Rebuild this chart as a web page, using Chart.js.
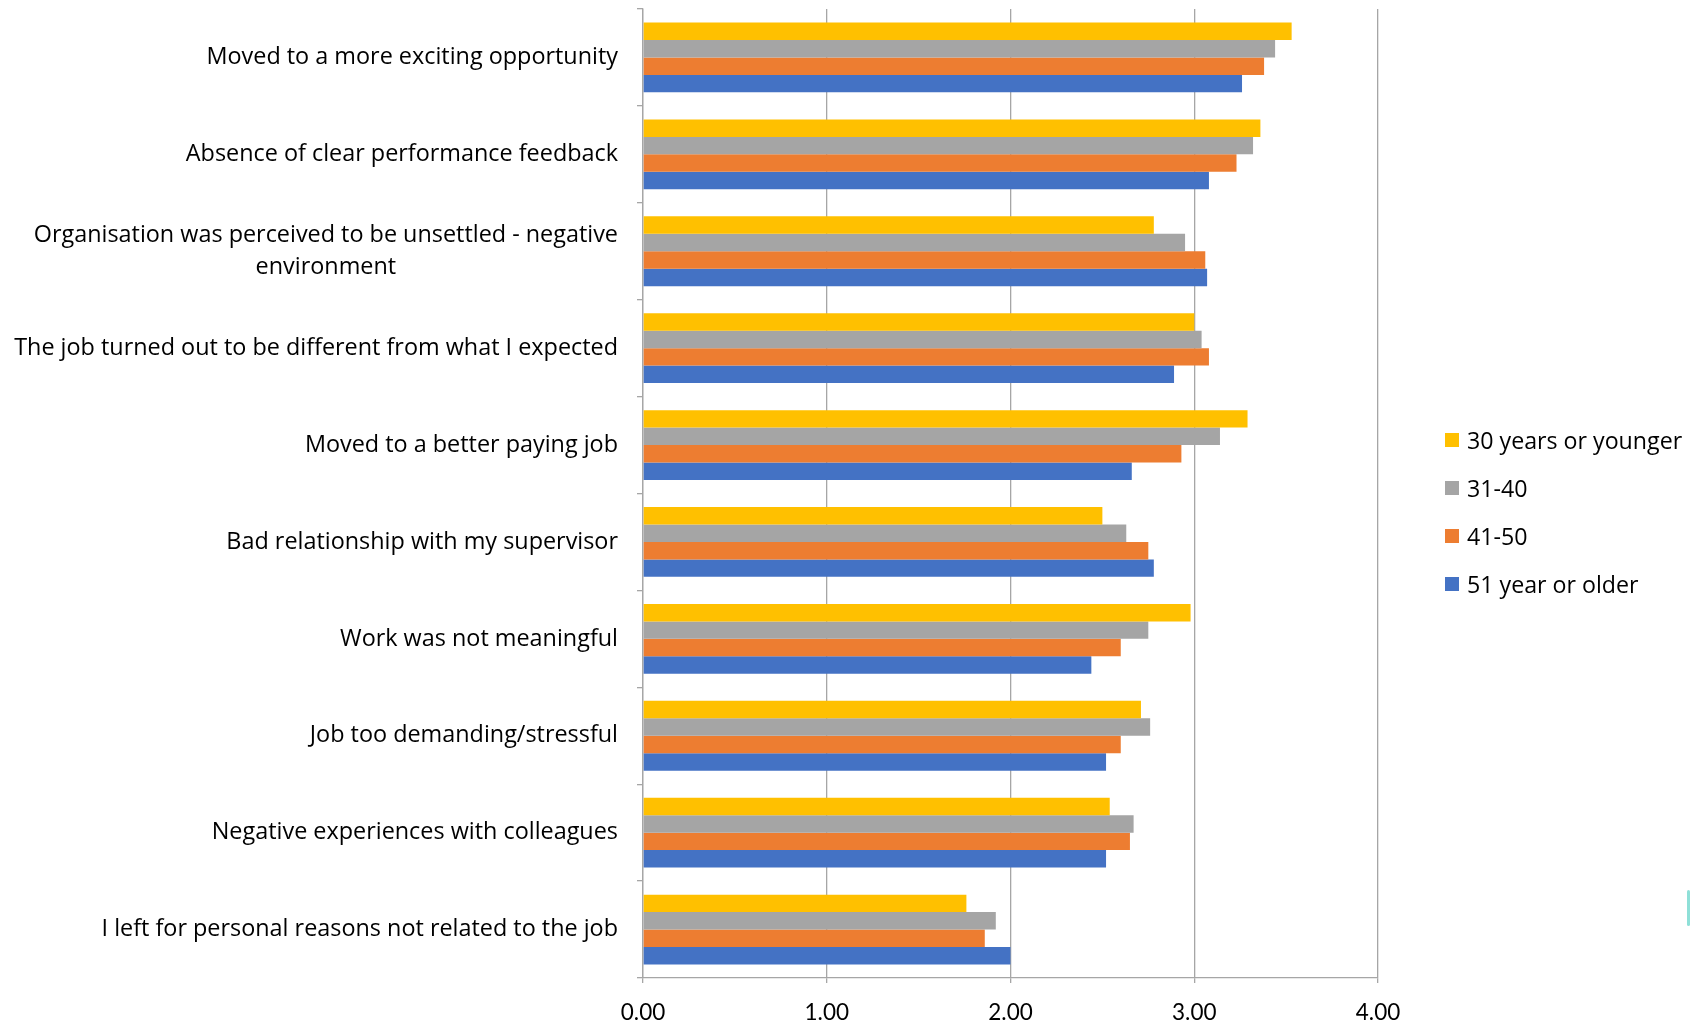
<!DOCTYPE html>
<html>
<head>
<meta charset="utf-8">
<title>Reasons for leaving by age group</title>
<script src="https://cdn.jsdelivr.net/npm/chart.js@4.4.0/dist/chart.umd.min.js"></script>
<style>
  html, body { margin: 0; padding: 0; background: #fff; }
  #wrap { position: relative; width: 1690px; height: 1024px; overflow: hidden; }
  #legend { position: absolute; left: 1445px; top: 427px; font-family: "Open Sans", Lato, sans-serif; font-size: 23.2px; color: #000; }
  #legend .item { display: flex; align-items: center; height: 26px; margin-bottom: 22px; white-space: nowrap; }
  #legend .box { width: 14px; height: 14px; margin-right: 8px; flex: none; }
  #edge { position: absolute; left: 1687px; top: 890px; width: 3px; height: 36px; background: #8fe0d8; border-radius: 2px; }
</style>
</head>
<body>
<div id="wrap">
  <canvas id="leaversChart" width="1690" height="1024"></canvas>
  <div id="legend"></div>
  <div id="edge"></div>
</div>
<script>
// reasons, top to bottom
const reasons = [
  "Moved to a more exciting opportunity",
  "Absence of clear performance feedback",
  ["Organisation was perceived to be unsettled - negative", "environment"],
  "The job turned out to be different from what I expected",
  "Moved to a better paying job",
  "Bad relationship with my supervisor",
  "Work was not meaningful",
  "Job too demanding/stressful",
  "Negative experiences with colleagues",
  "I left for personal reasons not related to the job"
];

// mean scores per age group
const age30OrYounger = [3.53, 3.36, 2.78, 3.00, 3.29, 2.50, 2.98, 2.71, 2.54, 1.76];
const age31to40 = [3.44, 3.32, 2.95, 3.04, 3.14, 2.63, 2.75, 2.76, 2.67, 1.92];
const age41to50 = [3.38, 3.23, 3.06, 3.08, 2.93, 2.75, 2.60, 2.60, 2.65, 1.86];
const age51OrOlder = [3.26, 3.08, 3.07, 2.89, 2.66, 2.78, 2.44, 2.52, 2.52, 2.00];

const groupNames = ["30 years or younger", "31-40", "41-50", "51 year or older"];
const groupColors = ["#FFC000", "#A5A5A5", "#ED7D31", "#4472C4"];
const xTicks = [0, 1, 2, 3, 4];

const labelFont = '23.4px "Open Sans", Lato, sans-serif';
const gridColor = "#A6A6A6";

// category labels: block right aligned next to the axis, lines centred within the block
const categoryLabels = {
  id: "categoryLabels",
  afterDraw(chart) {
    const ctx = chart.ctx;
    const yScale = chart.scales.y;
    const right = chart.chartArea.left - 25;
    const lineHeight = 32;
    ctx.save();
    ctx.font = labelFont;
    ctx.fillStyle = "#000";
    ctx.textAlign = "center";
    ctx.textBaseline = "middle";
    reasons.forEach((label, i) => {
      const lines = Array.isArray(label) ? label : [label];
      const w = Math.max(...lines.map((l) => ctx.measureText(l).width));
      const cx = right - w / 2;
      const cy = yScale.getPixelForValue(i);
      lines.forEach((l, j) => {
        ctx.fillText(l, cx, cy + (j - (lines.length - 1) / 2) * lineHeight);
      });
    });
    ctx.restore();
  }
};

const series = [age30OrYounger, age31to40, age41to50, age51OrOlder];

const ctx = document.getElementById("leaversChart").getContext("2d");
const leaversChart = new Chart(ctx, {
  type: "bar",
  data: {
    labels: reasons,
    datasets: series.map((values, i) => ({
      label: groupNames[i],
      data: values,
      backgroundColor: groupColors[i],
      borderWidth: 0,
      categoryPercentage: 0.72,
      barPercentage: 1.0
    }))
  },
  options: {
    indexAxis: "y",
    responsive: false,
    animation: false,
    layout: {
      padding: { left: 0, right: 312, top: 9, bottom: 0 }
    },
    plugins: {
      legend: { display: false },
      tooltip: { enabled: false }
    },
    scales: {
      x: {
        min: 0,
        max: 4,
        afterBuildTicks(scale) {
          scale.ticks = xTicks.map((v) => ({ value: v }));
        },
        afterFit(scale) {
          scale.height = 46;
        },
        grid: {
          color: gridColor,
          lineWidth: 1.3,
          drawTicks: true,
          tickLength: 5
        },
        border: { color: gridColor, width: 1.3 },
        ticks: {
          padding: 16,
          color: "#000",
          font: { family: 'Lato, "Open Sans", sans-serif', size: 22.5 },
          callback: (v) => Number(v).toFixed(2)
        }
      },
      y: {
        afterFit(scale) {
          scale.width = 643;
        },
        grid: {
          offset: true,
          drawOnChartArea: false,
          drawTicks: true,
          tickLength: 6,
          color: gridColor,
          lineWidth: 1.3
        },
        border: { color: gridColor, width: 1.3 },
        ticks: { display: false }
      }
    }
  },
  plugins: [categoryLabels]
});

// legend built from the same series names and colours
const legendEl = document.getElementById("legend");
groupNames.forEach((name, i) => {
  const item = document.createElement("div");
  item.className = "item";
  const box = document.createElement("span");
  box.className = "box";
  box.style.background = groupColors[i];
  const text = document.createElement("span");
  text.textContent = name;
  item.appendChild(box);
  item.appendChild(text);
  legendEl.appendChild(item);
});
</script>
</body>
</html>
